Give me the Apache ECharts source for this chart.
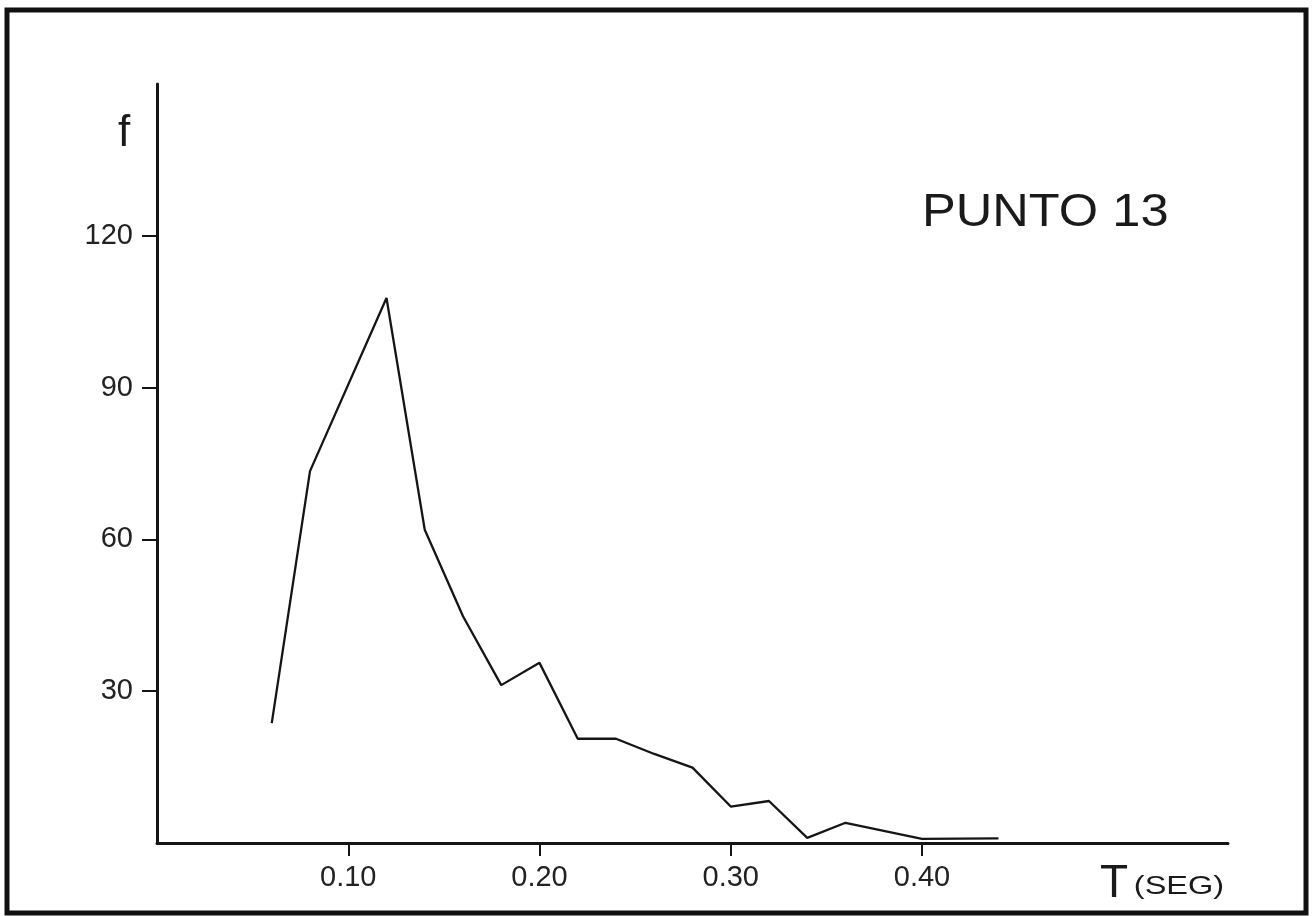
<!DOCTYPE html>
<html>
<head>
<meta charset="utf-8">
<script src="https://cdn.jsdelivr.net/npm/echarts@6/dist/echarts.min.js"></script>
<style>
html,body{margin:0;padding:0;background:#fff;}
#c{width:1314px;height:916px;}
</style>
</head>
<body>
<div id="c"></div>
<script>
// Period T (s) and frequency f
const periods = [0.06, 0.08, 0.12, 0.14, 0.16, 0.18, 0.20, 0.22, 0.24, 0.26, 0.28, 0.30, 0.32, 0.34, 0.36, 0.40, 0.44];
const freqs   = [23.7, 73.5, 107.7, 61.9, 44.8, 31.2, 35.6, 20.6, 20.6, 17.6, 14.9, 7.2, 8.3, 1.0, 4.0, 0.8, 0.9];
const xTickValues = [0.1, 0.2, 0.3, 0.4];
const xTickLabels = ['0.10', '0.20', '0.30', '0.40'];
const yTickValues = [30, 60, 90, 120];
const yTickLabels = ['30', '60', '90', '120'];
const titleText = 'PUNTO 13';
const yName = 'f';
const xNameMain = 'T';
const xNameUnit = '(SEG)';

const ink = '#151515';
const font = 'Liberation Sans';
const chart = echarts.init(document.getElementById('c'), null, {renderer: 'canvas'});
chart.setOption({
  backgroundColor: '#ffffff',
  animation: false,
  grid: {left: 157, right: 86, top: 84, bottom: 73, containLabel: false},
  xAxis: {
    type: 'value', min: 0, max: 0.56,
    axisLine: {show: true, onZero: false, lineStyle: {color: ink, width: 3}},
    axisTick: {show: true, inside: false, length: 13, customValues: xTickValues, lineStyle: {color: ink, width: 2}},
    axisLabel: {
      show: true, customValues: xTickValues, margin: 20,
      fontFamily: font, fontSize: 29, color: '#222',
      formatter: v => { const i = xTickValues.findIndex(t => Math.abs(t - v) < 1e-9); return i >= 0 ? xTickLabels[i] : ''; }
    },
    splitLine: {show: false}
  },
  yAxis: {
    type: 'value', min: 0, max: 150,
    axisLine: {show: true, onZero: false, lineStyle: {color: ink, width: 3}},
    axisTick: {show: true, length: 15, customValues: yTickValues, lineStyle: {color: ink, width: 2}},
    axisLabel: {
      show: true, customValues: yTickValues, margin: 24,
      fontFamily: font, fontSize: 29, color: '#222',
      formatter: v => { const i = yTickValues.indexOf(v); return i >= 0 ? yTickLabels[i] : ''; }
    },
    splitLine: {show: false}
  },
  series: [{
    type: 'line',
    data: periods.map((t, i) => [t, freqs[i]]),
    showSymbol: false,
    symbol: 'none',
    lineStyle: {color: ink, width: 2.3},
    z: 3
  }],
  graphic: [
    {type: 'rect', shape: {x: 7, y: 10, width: 1299, height: 903}, style: {fill: 'none', stroke: '#111', lineWidth: 5}, silent: true},
    {type: 'text', x: 922, y: 213, scaleX: 1.1, style: {text: titleText, font: '46px "Liberation Sans"', fill: '#1a1a1a', textVerticalAlign: 'middle', textAlign: 'left'}},
    {type: 'text', x: 124, y: 134, style: {text: yName, font: '44px "Liberation Sans"', fill: '#1a1a1a', textVerticalAlign: 'middle', textAlign: 'center'}},
    {type: 'text', x: 1114, y: 884, style: {text: xNameMain, font: '46px "Liberation Sans"', fill: '#1a1a1a', textVerticalAlign: 'middle', textAlign: 'center'}},
    {type: 'text', x: 1179, y: 887, scaleX: 1.3, style: {text: xNameUnit, font: '25px "Liberation Sans"', fill: '#1a1a1a', textVerticalAlign: 'middle', textAlign: 'center'}}
  ]
});
</script>
</body>
</html>
